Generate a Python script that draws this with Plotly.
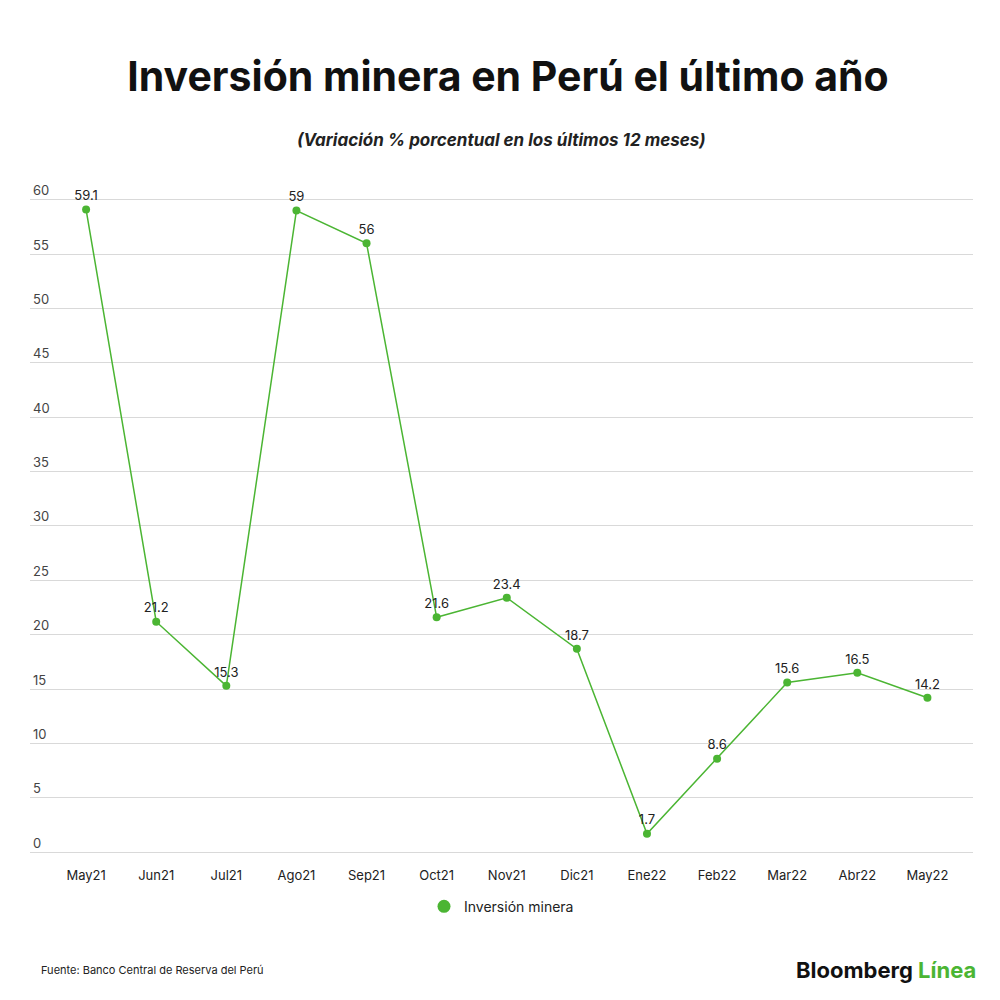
import plotly.graph_objects as go

months = ["May21","Jun21","Jul21","Ago21","Sep21","Oct21","Nov21","Dic21","Ene22","Feb22","Mar22","Abr22","May22"]
values = [59.1,21.2,15.3,59,56,21.6,23.4,18.7,1.7,8.6,15.6,16.5,14.2]
labels = ["59.1","21.2","15.3","59","56","21.6","23.4","18.7","1.7","8.6","15.6","16.5","14.2"]
yticks = [0,5,10,15,20,25,30,35,40,45,50,55,60]

green = "#4bb533"
fig = go.Figure(go.Scatter(
    x=list(range(len(months))), y=values, mode="lines+markers+text",
    text=labels, textposition="top center", textfont=dict(size=13, color="#222"),
    line=dict(color=green, width=1.5), marker=dict(color=green, size=8),
    showlegend=False))
fig.add_trace(go.Scatter(x=[None], y=[None], mode="markers", name="Inversión minera",
                         marker=dict(color=green, size=13)))

fig.update_layout(
    width=1000, height=1000, paper_bgcolor="white", plot_bgcolor="white",
    font=dict(family="Inter, Roboto, sans-serif", color="#222"),
    margin=dict(l=22, r=35, t=170, b=146, autoexpand=False),
    showlegend=True,
    legend=dict(orientation="h", x=0.5, xanchor="center", y=-0.042, yanchor="top",
                font=dict(size=14)),
    title=dict(text="<b>Inversión minera en Perú el último año</b>", x=0.5, xanchor="center",
               y=0.931, yanchor="middle", font=dict(size=41, color="#111")),
)
fig.update_xaxes(tickmode="array", tickvals=list(range(len(months))), ticktext=months,
                 range=[-0.8, 12.65], showgrid=False, zeroline=False, showline=False,
                 tickfont=dict(size=13), ticks="", ticklabelstandoff=4)
fig.update_yaxes(tickvals=yticks, range=[-0.9, 62], showgrid=True, gridcolor="#d9d9d9",
                 zeroline=False, showline=False, ticklabelposition="inside top",
                 tickfont=dict(size=13))
fig.add_annotation(text="<b><i>(Variación % porcentual en los últimos 12 meses)</i></b>",
                   xref="paper", yref="paper", x=0.5, y=1.056, showarrow=False,
                   font=dict(size=17, color="#222"), xanchor="center", yanchor="middle")
fig.add_annotation(text="Fuente: Banco Central de Reserva del Perú", xref="paper", yref="paper",
                   x=0.01, y=-0.158, xanchor="left", yanchor="middle", showarrow=False, font=dict(size=11))
fig.add_annotation(text="<b>Bloomberg <span style='color:#4bb533'>Línea</span></b>",
                   xref="paper", yref="paper", x=1.005, y=-0.158, xanchor="right", yanchor="middle",
                   showarrow=False, font=dict(size=22, color="#111"))
fig.write_html("out.html")
